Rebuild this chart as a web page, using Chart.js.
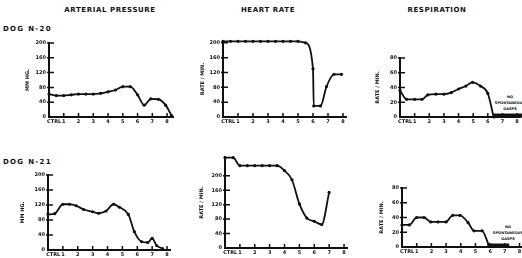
<!DOCTYPE html>
<html>
<head>
<meta charset="utf-8">
<script src="https://cdn.jsdelivr.net/npm/chart.js@4.4.1/dist/chart.umd.min.js"></script>
<style>
  body { margin: 0; background: #fff; width: 522px; height: 258px; position: relative; overflow: hidden;
         font-family: "DejaVu Sans", sans-serif; color: #111; }
  canvas { position: absolute; }
  .title { position: absolute; font-weight: bold; font-size: 7px; letter-spacing: 0.6px; transform: translateX(-50%); white-space: nowrap; }
  .dog { position: absolute; left: 3px; font-weight: bold; font-size: 7px; letter-spacing: 1.3px; white-space: nowrap; }
  .note { position: absolute; font-weight: bold; font-size: 3.6px; line-height: 6px; text-align: center; transform: translateX(-50%); white-space: nowrap; }
</style>
</head>
<body>
<div class="title" style="left:110px;top:6px">ARTERIAL PRESSURE</div>
<div class="title" style="left:268px;top:6px">HEART RATE</div>
<div class="title" style="left:437px;top:6px">RESPIRATION</div>
<div class="dog" style="top:25px">DOG N-20</div>
<div class="dog" style="top:158px">DOG N-21</div>
<div class="note" style="left:510px;top:94px">NO<br>SPONTANEOUS<br>GASPS</div>
<div class="note" style="left:508px;top:224px">NO<br>SPONTANEOUS<br>GASPS</div>

<canvas id="a1"></canvas>
<canvas id="h1"></canvas>
<canvas id="r1"></canvas>
<canvas id="a2"></canvas>
<canvas id="h2"></canvas>
<canvas id="r2"></canvas>

<script>
// minutes after control
const xTickValues = [0.35, 1, 2, 3, 4, 5, 6, 7, 8];
const xTickLabels = ['CTRL', '1', '2', '3', '4', '5', '6', '7', '8'];
const pressureTicks = [0, 40, 80, 120, 160, 200];
const heartTicks = [0, 40, 80, 120, 160, 200];
const respTicks = [0, 20, 40, 60, 80];

// Dog N-20
const n20PressureMin = [0, 0.5, 1, 1.5, 2, 2.5, 3, 3.5, 4, 4.5, 5, 5.5, 6, 6.45, 6.9, 7.4, 7.9, 8.3];
const n20Pressure    = [62, 58, 58, 60, 62, 62, 62, 64, 68, 73, 82, 82, 60, 32, 49, 48, 32, 4];
const n20HeartMin = [0, 0.5, 1, 1.5, 2, 2.5, 3, 3.5, 4, 4.5, 5, 5.5, 6, 6.05, 6.5, 6.9, 7.4, 7.9];
const n20Heart    = [204, 204, 204, 204, 204, 204, 204, 204, 204, 204, 204, 200, 130, 30, 30, 82, 115, 115];
const n20RespMin = [0, 0.45, 1, 1.5, 1.9, 2.45, 3, 3.5, 4, 4.5, 4.95, 5.5, 6, 6.4];
const n20Resp    = [36, 24, 24, 24, 30, 31, 31, 33, 38, 42, 47, 42, 32, 0];
const n20GaspMin = [6.4, 8.4];
const n20Gasp    = [2, 2];

// Dog N-21
const n21PressureMin = [0, 0.45, 1, 1.45, 1.9, 2.4, 3, 3.4, 3.9, 4.4, 4.8, 5.4, 5.8, 6.3, 6.7, 7.0, 7.3, 7.7];
const n21Pressure    = [95, 97, 122, 122, 118, 108, 102, 98, 104, 122, 114, 95, 49, 22, 20, 31, 12, 4];
const n21HeartMin = [0, 0.55, 1, 1.5, 2, 2.5, 3, 3.5, 4, 4.5, 5, 5.5, 6, 6.5, 7];
const n21Heart    = [250, 250, 228, 228, 228, 228, 228, 228, 214, 189, 122, 83, 74, 65, 154];
const n21RespMin = [0, 0.5, 1, 1.5, 1.95, 2.45, 3, 3.45, 3.95, 4.5, 4.9, 5.45, 5.9];
const n21Resp    = [30, 30, 40, 40, 34, 34, 34, 43, 43, 33, 22, 22, 3];
const n21GaspMin = [5.9, 7.3];
const n21Gasp    = [2, 2];

const INK = '#111';
const tinyFont = { family: 'DejaVu Sans', size: 5, weight: 'bold' };

function points(xs, ys) {
    return xs.map((x, i) => ({ x: x, y: ys[i] }));
}

// short tick marks pointing into the plot, like the original drawing
const inkTicks = {
    id: 'inkTicks',
    afterDraw(chart) {
        const { ctx, chartArea: a } = chart;
        const x = chart.scales.x, y = chart.scales.y;
        ctx.save();
        ctx.strokeStyle = INK;
        ctx.lineWidth = 1.5;
        ctx.beginPath();
        x.ticks.forEach(t => {
            if (t.value >= 1) {
                const px = x.getPixelForValue(t.value);
                ctx.moveTo(px, a.bottom);
                ctx.lineTo(px, a.bottom - 4);
            }
        });
        y.ticks.forEach(t => {
            if (t.value > 0) {
                const py = y.getPixelForValue(t.value);
                ctx.moveTo(a.left - 2, py);
                ctx.lineTo(a.left + 5, py);
            }
        });
        ctx.stroke();
        ctx.restore();
    }
};

function panel(id, box, xMax, yMax, yTicks, yTitle, datasets) {
    // box: chart area edges on the page, titleX: centre of the rotated axis title
    const canvas = document.getElementById(id);
    const left = box.titleX - 3;
    const top = box.t - 8;
    const yWidth = box.l - left;
    const xHeight = 10;
    const padRight = 6;
    const w = box.r - left + padRight;
    const h = box.b - top + xHeight;
    canvas.width = w; canvas.height = h;
    canvas.style.left = left + 'px';
    canvas.style.top = top + 'px';
    canvas.style.width = w + 'px';
    canvas.style.height = h + 'px';

    new Chart(canvas, {
        type: 'line',
        data: {
            datasets: datasets.map(d => ({
                data: points(d.xs, d.ys),
                borderColor: INK,
                backgroundColor: INK,
                borderWidth: d.gasp ? 4 : 1.8,
                pointRadius: d.gasp ? 0 : 1.6,
                pointBorderWidth: 0,
                cubicInterpolationMode: 'monotone',
                clip: false
            }))
        },
        options: {
            responsive: false,
            animation: false,
            devicePixelRatio: 1,
            layout: { padding: { top: 8, right: padRight, left: 0, bottom: 0 } },
            plugins: { legend: { display: false }, tooltip: { enabled: false } },
            scales: {
                x: {
                    type: 'linear',
                    min: 0,
                    max: xMax,
                    afterBuildTicks: s => { s.ticks = xTickValues.map(v => ({ value: v })); },
                    afterFit: s => { s.height = xHeight; },
                    ticks: {
                        callback: v => xTickLabels[xTickValues.indexOf(v)],
                        font: tinyFont, color: INK, padding: 2,
                        maxRotation: 0, autoSkip: false
                    },
                    grid: { display: false, drawTicks: false },
                    border: { color: INK, width: 2 }
                },
                y: {
                    type: 'linear',
                    min: 0,
                    max: yMax,
                    afterBuildTicks: s => { s.ticks = yTicks.map(v => ({ value: v })); },
                    afterFit: s => { s.width = yWidth; },
                    ticks: { font: tinyFont, color: INK, padding: 3, autoSkip: false },
                    grid: { display: false, drawTicks: false },
                    border: { color: INK, width: 2 },
                    title: {
                        display: true, text: yTitle, color: INK,
                        font: { family: 'DejaVu Sans', size: 5, weight: 'bold' },
                        padding: 0
                    }
                }
            }
        },
        plugins: [inkTicks]
    });
}

panel('a1', { l: 49, t: 43, r: 173, b: 117, titleX: 28 }, 8.4, 200, pressureTicks, 'MM HG.',
      [{ xs: n20PressureMin, ys: n20Pressure }]);
panel('h1', { l: 223, t: 41, r: 346, b: 117, titleX: 203 }, 8.2, 205, heartTicks, 'RATE / MIN.',
      [{ xs: n20HeartMin, ys: n20Heart }]);
panel('r1', { l: 400, t: 58, r: 520, b: 117, titleX: 378 }, 8.2, 80, respTicks, 'RATE / MIN.',
      [{ xs: n20RespMin, ys: n20Resp }, { xs: n20GaspMin, ys: n20Gasp, gasp: true }]);
panel('a2', { l: 48, t: 175, r: 170, b: 250, titleX: 23 }, 8.2, 200, pressureTicks, 'MM HG.',
      [{ xs: n21PressureMin, ys: n21Pressure }]);
panel('h2', { l: 225, t: 157, r: 347, b: 248, titleX: 202 }, 8.2, 252, heartTicks, 'RATE / MIN.',
      [{ xs: n21HeartMin, ys: n21Heart }]);
panel('r2', { l: 402, t: 188, r: 521, b: 247, titleX: 382 }, 8.1, 80, respTicks, 'RATE / MIN.',
      [{ xs: n21RespMin, ys: n21Resp }, { xs: n21GaspMin, ys: n21Gasp, gasp: true }]);
</script>
</body>
</html>
